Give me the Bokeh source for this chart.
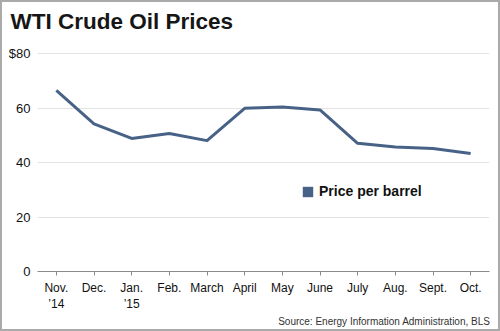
from bokeh.plotting import figure
from bokeh.models import Legend, LegendItem, FixedTicker, ColumnDataSource, Title
from bokeh.embed import file_html
from bokeh.resources import INLINE

months = ["Nov.\n\u201914", "Dec.", "Jan.\n\u201915", "Feb.", "March", "April",
          "May", "June", "July", "Aug.", "Sept.", "Oct."]
price = [66.6, 54.3, 48.9, 50.7, 48.1, 60.0, 60.5, 59.4, 47.1, 45.8, 45.2, 43.4]
y_ticks = [0, 20, 40, 60, 80]
y_labels = {0: "0", 20: "20", 40: "40", 60: "60", 80: "$80"}

LINE = "#486287"
FONT = "Liberation Sans"

idx = list(range(len(months)))
src = ColumnDataSource(dict(x=idx, y=price))

p = figure(width=500, height=331, x_range=(-0.5, 11.5), y_range=(0, 80.5),
           output_backend="svg", toolbar_location=None,
           min_border_left=37, min_border_right=11, min_border_top=52, min_border_bottom=60)
p.outline_line_color = None
p.background_fill_color = "white"
p.border_fill_color = None

r = p.line("x", "y", source=src, line_color=LINE, line_width=3, line_join="round")

# zero-area swatch renderer used only for the legend square
sw = p.quad(left="x", right="x", top="y", bottom="y", source=src,
            fill_color=LINE, line_color=None)

# axes
p.xaxis.ticker = FixedTicker(ticks=idx)
p.xaxis.major_label_overrides = {i: m for i, m in zip(idx, months)}
p.xaxis.axis_line_color = "#8a8a8a"
p.xaxis.major_tick_line_color = "#8a8a8a"
p.xaxis.major_tick_in = 0
p.xaxis.major_tick_out = 4
p.xaxis.minor_tick_line_color = None
p.xaxis.major_label_text_font = FONT
p.xaxis.major_label_text_font_size = "12px"
p.xaxis.major_label_text_color = "#111111"
p.xaxis.major_label_standoff = 5

p.yaxis.ticker = FixedTicker(ticks=y_ticks)
p.yaxis.major_label_overrides = y_labels
p.yaxis.axis_line_color = None
p.yaxis.major_tick_line_color = None
p.yaxis.minor_tick_line_color = None
p.yaxis.major_tick_in = 0
p.yaxis.major_tick_out = 0
p.yaxis.major_label_standoff = 7
p.yaxis.major_label_text_font = FONT
p.yaxis.major_label_text_font_size = "13px"
p.yaxis.major_label_text_color = "#111111"

p.xgrid.grid_line_color = None
p.ygrid.ticker = FixedTicker(ticks=y_ticks)
p.ygrid.grid_line_color = "#e3e3e3"
p.ygrid.grid_line_width = 1

legend = Legend(items=[LegendItem(label="Price per barrel", renderers=[sw])],
                location=(264, 72), orientation="vertical",
                border_line_color=None, background_fill_alpha=0,
                padding=0, margin=0, glyph_width=13, glyph_height=13,
                label_standoff=5, label_text_font=FONT, label_text_font_style="bold",
                label_text_font_size="14px", label_text_color="#111111")
p.add_layout(legend, "center")

# invisible spacer between the frame and the title (closest to the frame)
spacer = Title(text=" ", standoff=13, text_font_size="1px")
p.add_layout(spacer, "above")

title = Title(text="WTI Crude Oil Prices", align="left", offset=-27, standoff=5,
              text_font=FONT, text_font_style="bold",
              text_font_size="22.5px", text_color="#161616")
p.add_layout(title, "above")

source = Title(text="Source: Energy Information Administration, BLS", align="right",
               offset=-1, standoff=-2, text_font=FONT, text_font_style="normal",
               text_font_size="10px", text_color="#333333")
p.add_layout(source, "below")

p.styles = {"outline": "2px solid #aaaaaa", "outline-offset": "-2px",
            "background-color": "white"}

open("out.html", "w").write(file_html(p, INLINE))
